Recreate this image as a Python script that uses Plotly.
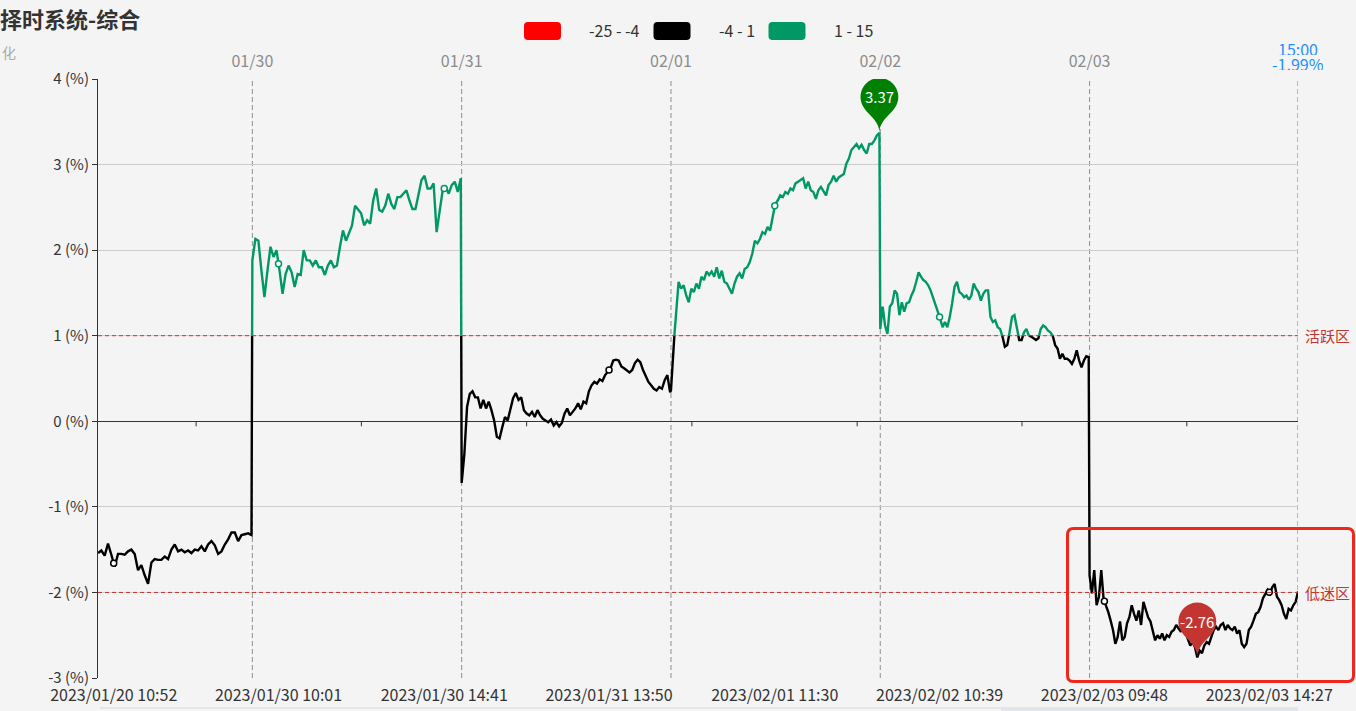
import numpy as np
import plotly.graph_objects as go

# ---------------- data ----------------
title_text = "择时系统-综合"
subtitle_text = "化"
session_dates = ["01/20", "01/30", "01/31", "02/01", "02/02", "02/03"]
session_first_bar = ["10:34", "09:31", "09:31", "09:31", "09:31", "09:31"]

chg_0120 = [-1.54, -1.51, -1.57, -1.43, -1.56, -1.70, -1.55, -1.55, -1.56, -1.52, -1.50, -1.55,
            -1.74, -1.68, -1.80, -1.90, -1.65, -1.61, -1.62, -1.62, -1.58, -1.61, -1.50, -1.44,
            -1.52, -1.50, -1.53, -1.51, -1.54, -1.50, -1.51, -1.46, -1.52, -1.44, -1.40, -1.45,
            -1.55, -1.52, -1.44, -1.38, -1.30, -1.30, -1.40, -1.33, -1.32, -1.31, -1.33]
chg_0130 = [1.88, 2.13, 2.11, 1.76, 1.45, 1.76, 2.04, 1.92, 2.00, 1.76, 1.49, 1.72, 1.82, 1.74,
            1.57, 1.72, 1.71, 2.00, 1.88, 1.88, 1.82, 1.88, 1.80, 1.80, 1.71, 1.82, 1.88, 1.80,
            1.82, 2.04, 2.23, 2.11, 2.21, 2.29, 2.52, 2.47, 2.43, 2.29, 2.35, 2.31, 2.58, 2.72,
            2.47, 2.45, 2.52, 2.66, 2.54, 2.48, 2.62, 2.62, 2.66, 2.70, 2.58, 2.48, 2.48, 2.66,
            2.82, 2.87, 2.72, 2.72, 2.78, 2.21, 2.43, 2.70, 2.74, 2.66, 2.76, 2.80, 2.68, 2.84]
chg_0131 = [-0.72, -0.38, 0.17, 0.32, 0.35, 0.28, 0.28, 0.15, 0.25, 0.15, 0.23, 0.13, 0.01,
            -0.18, -0.20, -0.07, 0.05, 0.01, 0.15, 0.27, 0.33, 0.25, 0.28, 0.13, 0.09, 0.07,
            0.11, 0.05, 0.13, 0.07, 0.03, 0.01, -0.01, 0.02, -0.05, -0.01, -0.06, -0.02, 0.09,
            0.15, 0.07, 0.11, 0.15, 0.21, 0.14, 0.23, 0.21, 0.35, 0.42, 0.46, 0.44, 0.49, 0.47,
            0.54, 0.58, 0.62, 0.71, 0.72, 0.71, 0.64, 0.62, 0.60, 0.57, 0.60, 0.68, 0.72, 0.69,
            0.60, 0.52, 0.46, 0.42, 0.38, 0.36, 0.40, 0.38, 0.48, 0.54, 0.34]
chg_0201 = [0.36, 0.85, 1.30, 1.63, 1.55, 1.59, 1.47, 1.39, 1.55, 1.51, 1.61, 1.55, 1.69, 1.65,
            1.75, 1.71, 1.75, 1.69, 1.80, 1.67, 1.76, 1.63, 1.61, 1.55, 1.49, 1.61, 1.69, 1.73,
            1.67, 1.78, 1.80, 1.86, 1.96, 2.11, 2.08, 2.13, 2.21, 2.19, 2.27, 2.23, 2.41, 2.54,
            2.58, 2.64, 2.62, 2.68, 2.66, 2.72, 2.70, 2.78, 2.80, 2.82, 2.84, 2.72, 2.80, 2.70,
            2.68, 2.60, 2.70, 2.74, 2.68, 2.64, 2.76, 2.80, 2.87, 2.80, 2.85, 2.87, 2.89, 3.01,
            3.07, 3.17, 3.21, 3.24, 3.19, 3.23, 3.17, 3.13, 3.24, 3.24, 3.28, 3.34, 3.37]
chg_0202 = [1.08, 1.34, 1.12, 1.02, 1.34, 1.38, 1.53, 1.49, 1.24, 1.39, 1.28, 1.38, 1.39, 1.47,
            1.53, 1.63, 1.74, 1.69, 1.65, 1.63, 1.59, 1.53, 1.45, 1.38, 1.28, 1.20, 1.10, 1.16,
            1.10, 1.22, 1.38, 1.57, 1.63, 1.51, 1.49, 1.45, 1.47, 1.42, 1.47, 1.61, 1.55, 1.51,
            1.41, 1.49, 1.53, 1.53, 1.22, 1.16, 1.18, 1.10, 1.08, 0.99, 0.87, 0.89, 1.04, 1.22,
            1.24, 1.10, 0.95, 0.95, 1.04, 1.08, 1.00, 0.99, 0.97, 0.95, 0.97, 1.08, 1.12, 1.10,
            1.06, 1.04, 1.00, 0.89, 0.85, 0.73, 0.79, 0.73, 0.73, 0.71, 0.67, 0.73, 0.83, 0.71,
            0.63, 0.71, 0.76, 0.75]
chg_0203 = [-1.80, -2.01, -1.74, -2.15, -2.05, -1.74, -2.08, -2.15, -2.23, -2.33, -2.44, -2.60,
            -2.52, -2.34, -2.56, -2.52, -2.36, -2.29, -2.15, -2.25, -2.33, -2.21, -2.38, -2.11,
            -2.21, -2.29, -2.34, -2.44, -2.56, -2.50, -2.54, -2.48, -2.56, -2.50, -2.52, -2.46,
            -2.44, -2.38, -2.42, -2.46, -2.40, -2.48, -2.56, -2.62, -2.58, -2.64, -2.76, -2.68,
            -2.71, -2.62, -2.58, -2.60, -2.52, -2.44, -2.40, -2.44, -2.38, -2.36, -2.44, -2.38,
            -2.42, -2.44, -2.40, -2.48, -2.44, -2.60, -2.64, -2.60, -2.44, -2.40, -2.33, -2.25,
            -2.23, -2.17, -2.07, -2.01, -1.97, -2.01, -1.94, -1.90, -2.05, -2.09, -2.15, -2.25,
            -2.31, -2.19, -2.21, -2.15, -2.11, -1.99]
session_values = [chg_0120, chg_0130, chg_0131, chg_0201, chg_0202, chg_0203]

bottom_tick_labels = ["2023/01/20 10:52", "2023/01/30 10:01", "2023/01/30 14:41",
                      "2023/01/31 13:50", "2023/02/01 11:30", "2023/02/02 10:39",
                      "2023/02/03 09:48", "2023/02/03 14:27"]
y_tick_values = [-3, -2, -1, 0, 1, 2, 3, 4]
active_level, active_label = 1, "活跃区"
weak_level, weak_label = -2, "低迷区"
close_time = "15:00"
piece_bounds = [(-25, -4), (-4, 1), (1, 15)]
piece_labels = ["-25 - -4", "-4 - 1", "1 - 15"]
piece_colors = ["#ff0000", "#000000", "#009966"]

# ---------------- helpers ----------------
FONT = "Noto Sans CJK SC, Noto Sans, sans-serif"
W, H = 1356, 711
ML, MR, MT, MB = 98, 58, 79, 33
PW, PH = W - ML - MR, H - MT - MB


def px2x(p):
    return (p - ML) / PW


def py2y(p):
    return (MT + PH - p) / PH


def session_minute(hhmm):
    h, m = map(int, hhmm.split(":"))
    t = h * 60 + m
    if t <= 11 * 60 + 30:
        return t - (9 * 60 + 30)
    return 120 + t - 13 * 60


session_len = [240 - session_minute(f) + 1 for f in session_first_bar]
session_start = list(np.cumsum([0] + session_len[:-1]))
last_idx = session_start[-1] + session_len[-1] - 1


def bar_index(date_str, time_str):
    d = session_dates.index(date_str)
    return session_start[d] + session_minute(time_str) - session_minute(session_first_bar[d])


xs = np.concatenate([s + np.linspace(0, n - 1, len(v))
                     for s, n, v in zip(session_start, session_len, session_values)])
ys = np.concatenate([np.array(v, float) for v in session_values])

# split line at visualMap piece boundaries
thresholds = sorted({b for pair in piece_bounds for b in pair})
lx, ly = [xs[0]], [ys[0]]
for i in range(len(xs) - 1):
    x0, y0, x1, y1 = xs[i], ys[i], xs[i + 1], ys[i + 1]
    cross = [t for t in thresholds if (y0 - t) * (y1 - t) < 0]
    cross.sort(key=lambda t: (t - y0) / (y1 - y0))
    for t in cross:
        f = (t - y0) / (y1 - y0)
        lx.append(x0 + f * (x1 - x0))
        ly.append(float(t))
    lx.append(x1)
    ly.append(y1)


def piece_of(v):
    for k, (lo, hi) in enumerate(piece_bounds):
        if lo <= v <= hi:
            return k
    return 1


seg_x = [[] for _ in piece_bounds]
seg_y = [[] for _ in piece_bounds]
prev = None
for j in range(len(lx) - 1):
    k = piece_of((ly[j] + ly[j + 1]) / 2)
    if k != prev:
        if prev is not None:
            seg_x[prev].append(None)
            seg_y[prev].append(None)
        seg_x[k].append(lx[j])
        seg_y[k].append(ly[j])
    seg_x[k].append(lx[j + 1])
    seg_y[k].append(ly[j + 1])
    prev = k

fig = go.Figure()
for k in range(len(piece_bounds)):
    if seg_x[k]:
        fig.add_trace(go.Scatter(x=seg_x[k], y=seg_y[k], mode="lines",
                                 line=dict(color=piece_colors[k], width=2.4),
                                 hoverinfo="skip", showlegend=False))

# label positions (bottom axis)
bottom_pos = [bar_index(s.split(" ")[0][5:], s.split(" ")[1]) for s in bottom_tick_labels]
mk_y = np.interp(bottom_pos, xs, ys)
fig.add_trace(go.Scatter(x=bottom_pos, y=mk_y, mode="markers",
                         marker=dict(symbol="circle", size=6, color="#ffffff",
                                     line=dict(width=1.5, color=[piece_colors[piece_of(v)] for v in mk_y])),
                         hoverinfo="skip", showlegend=False))

# top axis (session dates)
top_pos = session_start[1:]
fig.add_trace(go.Scatter(x=top_pos, y=[0] * len(top_pos), xaxis="x2", mode="none",
                         hoverinfo="skip", showlegend=False))

shapes = []
annotations = []

# session separators
for p in top_pos:
    shapes.append(dict(type="line", xref="x", yref="paper", x0=p, x1=p, y0=0, y1=1,
                       line=dict(color="#8f8f8f", width=1, dash="5px,3px"), layer="below"))
shapes.append(dict(type="line", xref="x", yref="paper", x0=last_idx, x1=last_idx, y0=0, y1=1,
                   line=dict(color="#1e90ff", width=1, dash="5px,3px"), layer="below"))

# reference levels
for lvl, lab in [(active_level, active_label), (weak_level, weak_label)]:
    shapes.append(dict(type="line", xref="paper", yref="y", x0=0, x1=1, y0=lvl, y1=lvl,
                       line=dict(color="#c23531", width=1, dash="4px,3px")))
    annotations.append(dict(xref="paper", yref="y", x=px2x(1303), y=lvl, text=lab,
                            xanchor="left", yanchor="middle", showarrow=False,
                            font=dict(family=FONT, size=15, color="#c23531")))

# small ticks on zero axis between labels
for a, b in zip(bottom_pos[:-1], bottom_pos[1:]):
    m = (a + b) / 2
    shapes.append(dict(type="line", xref="x", yref="y", x0=m, x1=m, y0=0, y1=-5,
                       ysizemode="pixel", yanchor=0, line=dict(color="#333", width=1)))


def pin_path(size):
    w = size * 3 / 5
    h = max(w, size)
    r = w / 2
    dy = r * r / (h - r)
    c = h - r - dy
    a = np.arcsin(dy / r)
    dx = np.cos(a) * r
    tx, ty = np.sin(a), np.cos(a)
    cp1, cp2 = r * 0.6, r * 0.7
    th = np.linspace(np.pi - a, 2 * np.pi + a, 60)
    pts = [(r * np.cos(t), c - r * np.sin(t)) for t in th]
    d = "M%.2f,%.2f " % pts[0] + " ".join("L%.2f,%.2f" % p for p in pts[1:])
    d += " C%.2f,%.2f %.2f,%.2f 0,0" % (dx - tx * cp1, c - dy - ty * cp1, 0, cp2)
    d += " C%.2f,%.2f %.2f,%.2f %.2f,%.2f Z" % (0, cp2, -dx + tx * cp1, c - dy - ty * cp1, -dx, c - dy)
    return d, c


PIN = 63
pin_d, pin_c = pin_path(PIN)
for idx, col in [(int(np.argmax(ys)), "#008000"), (int(np.argmin(ys)), "#c23531")]:
    shapes.append(dict(type="path", xref="x", yref="y", xsizemode="pixel", ysizemode="pixel",
                       xanchor=xs[idx], yanchor=ys[idx], path=pin_d,
                       fillcolor=col, line=dict(width=0)))
    annotations.append(dict(xref="x", yref="y", x=xs[idx], y=ys[idx], yshift=pin_c,
                            text="%.2f" % ys[idx], showarrow=False,
                            font=dict(family=FONT, size=15, color="#ffffff")))


def rrect_path(w, h, r):
    x0, x1, y0, y1 = -w / 2, w / 2, -h / 2, h / 2
    return (f"M{x0 + r},{y0} L{x1 - r},{y0} Q{x1},{y0} {x1},{y0 + r} L{x1},{y1 - r} "
            f"Q{x1},{y1} {x1 - r},{y1} L{x0 + r},{y1} Q{x0},{y1} {x0},{y1 - r} "
            f"L{x0},{y0 + r} Q{x0},{y0} {x0 + r},{y0} Z")


# visualMap legend
for k, (lab, col) in enumerate(zip(piece_labels, piece_colors)):
    cx = [542.5, 672, 787][k]
    shapes.append(dict(type="path", xref="paper", yref="paper", xsizemode="pixel",
                       ysizemode="pixel", xanchor=px2x(cx), yanchor=py2y(31),
                       path=rrect_path(37, 18, 4), fillcolor=col, line=dict(width=0)))
    annotations.append(dict(xref="paper", yref="paper", x=px2x([587, 717, 832][k]), y=py2y(30),
                            text=lab, xanchor="left", yanchor="middle", showarrow=False,
                            font=dict(family=FONT, size=16, color="#333")))

# highlight box
shapes.append(dict(type="path", xref="paper", yref="paper", xsizemode="pixel", ysizemode="pixel",
                   xanchor=px2x(1210.5), yanchor=py2y(605), path=rrect_path(286, 153, 6),
                   fillcolor="rgba(0,0,0,0)", line=dict(color="#f0261c", width=3)))

# dataZoom strip edge at bottom
shapes.append(dict(type="line", xref="paper", yref="paper", x0=px2x(100), x1=px2x(1298),
                   y0=py2y(708), y1=py2y(708), line=dict(color="#d8d8d8", width=1)))
shapes.append(dict(type="rect", xref="paper", yref="paper", x0=px2x(1001), x1=px2x(1298),
                   y0=py2y(709), y1=py2y(716), fillcolor="#dfe5ee", line=dict(width=0)))

# last value label
last_val = ys[-1]
annotations.append(dict(xref="x", yref="paper", x=last_idx, y=1, yshift=MT - 48, text=close_time,
                        showarrow=False, yanchor="middle", height=13, borderpad=0,
                        font=dict(family=FONT, size=16, color="#1e90ff")))
annotations.append(dict(xref="x", yref="paper", x=last_idx, y=1, yshift=MT - 63,
                        text="%.2f%%" % last_val, showarrow=False, yanchor="middle",
                        height=13, borderpad=0,
                        font=dict(family=FONT, size=16, color="#1e90ff")))

# subtitle fragment
annotations.append(dict(xref="paper", yref="paper", x=px2x(0), y=py2y(52), text=subtitle_text,
                        xanchor="left", yanchor="middle", showarrow=False,
                        font=dict(family=FONT, size=14, color="#aaaaaa")))

fig.update_layout(
    width=W, height=H,
    margin=dict(l=ML, r=MR, t=MT, b=MB, pad=0, autoexpand=False),
    paper_bgcolor="#f4f4f4", plot_bgcolor="#f4f4f4",
    font=dict(family=FONT, size=13, color="#333"),
    title=dict(text="<b>%s</b>" % title_text, x=0, xref="container", xanchor="left",
               y=1 - 20 / H, yref="container", yanchor="middle",
               font=dict(family=FONT, size=22, color="#333")),
    showlegend=False,
    hovermode=False,
    xaxis=dict(range=[0, last_idx], tickvals=bottom_pos, ticktext=bottom_tick_labels,
               ticks="outside", ticklen=3, tickcolor="rgba(0,0,0,0)", automargin=False,
               showgrid=False, zeroline=False, showline=False,
               tickfont=dict(family=FONT, size=16, color="#333")),
    xaxis2=dict(range=[0, last_idx], overlaying="x", side="top", tickvals=top_pos,
                ticktext=session_dates[1:], ticks="outside", ticklen=5,
                tickcolor="rgba(0,0,0,0)", automargin=False,
                showgrid=False, zeroline=False, showline=False,
                tickfont=dict(family=FONT, size=16, color="#8c8c8c")),
    yaxis=dict(range=[-3, 4], tickvals=y_tick_values, automargin=False,
               ticktext=["%d (%%)" % v for v in y_tick_values],
               ticks="outside", ticklen=5, tickcolor="#333", showline=True, linecolor="#333",
               linewidth=1, gridcolor="#cccccc", gridwidth=1, zeroline=True,
               zerolinecolor="#333", zerolinewidth=1,
               tickfont=dict(family=FONT, size=15, color="#333")),
    shapes=shapes,
    annotations=annotations,
)

fig.write_html("out.html", config={"displayModeBar": False},
               post_script="document.body.style.margin='0';")
